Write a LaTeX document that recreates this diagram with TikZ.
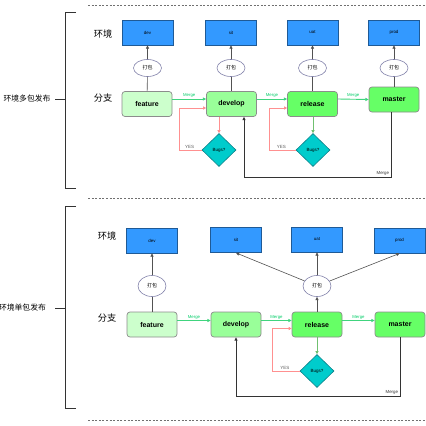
\documentclass[tikz,border=0pt]{standalone}
\usepackage{fontspec}
\setmainfont{Liberation Sans}
\newfontfamily\cjk{Noto Sans CJK SC}
\usetikzlibrary{shapes.geometric,arrows.meta}
\definecolor{envblue}{HTML}{3399FF}
\definecolor{envborder}{HTML}{1F5A96}
\definecolor{pkgborder}{HTML}{7F7FA8}
\definecolor{brborder}{HTML}{8C8C8C}
\definecolor{featfill}{HTML}{CCFFCC}
\definecolor{devfill}{HTML}{99FF99}
\definecolor{relfill}{HTML}{66FF66}
\definecolor{bugfill}{HTML}{00CCCC}
\definecolor{bugborder}{HTML}{0E8088}
\definecolor{mergegreen}{HTML}{00CC66}
\definecolor{mergeline}{HTML}{40D47E}
\definecolor{yesline}{HTML}{FF9090}
\definecolor{yestip}{HTML}{FF2A2A}
\definecolor{relline}{HTML}{70C070}
\definecolor{reltip}{HTML}{2D6A00}
\definecolor{darkline}{HTML}{333333}
\begin{document}
\begin{tikzpicture}[x=1pt,y=-1pt,
  tip/.style={-{Triangle[length=3.2pt,width=3pt]}},
  envbox/.style={draw=envborder, fill=envblue, line width=0.8pt, minimum width=51pt, minimum height=25pt, inner sep=0pt, font=\fontsize{4.4}{5}\selectfont},
  pkg/.style={ellipse, draw=pkgborder, fill=white, line width=0.6pt, minimum width=28pt, minimum height=#1, inner sep=0pt, font=\cjk\fontsize{5}{6}\selectfont},
  branchbox/.style={rounded corners=3pt, draw=brborder, line width=0.7pt, fill=#1, minimum width=50pt, minimum height=25pt, inner sep=0pt, font=\bfseries\fontsize{7}{8}\selectfont},
  bug/.style={diamond, draw=bugborder, fill=bugfill, line width=0.6pt, minimum width=34pt, minimum height=33pt, inner sep=0pt, font=\fontsize{4.5}{5}\selectfont},
  grayline/.style={draw=darkline!85, line width=0.6pt},
  grayarrow/.style={grayline, tip},
  merge/.style={draw=mergeline, line width=0.9pt, -{Triangle[length=3.2pt,width=3pt,fill=mergegreen]}},
  mergelabel/.style={font=\fontsize{4.3}{5}\selectfont, text=mergegreen, inner sep=1pt},
  yes/.style={draw=yesline, line width=0.7pt, -{Triangle[length=3pt,width=3pt,fill=yestip]}},
  yeslabel/.style={font=\fontsize{4.5}{5}\selectfont, text=darkline!80, inner sep=1pt},
  back/.style={draw=darkline, line width=0.8pt, tip},
  dashsep/.style={draw=darkline!70, line width=0.7pt, dash pattern=on 2pt off 1.6pt},
  bracket/.style={draw=darkline, line width=0.8pt},
  sectlabel/.style={font=\cjk\fontsize{7.8}{9}\selectfont, inner sep=0pt},
  rowlabel/.style={font=\cjk\fontsize{9.2}{10}\selectfont, inner sep=0pt}
]
\useasboundingbox (0,0) rectangle (426,426);

% separators
\coordinate (s1a) at (88,5);   \coordinate (s1b) at (426,5);
\coordinate (s2a) at (88,198); \coordinate (s2b) at (426,198);
\coordinate (s3a) at (88,420); \coordinate (s3b) at (426,420);
\draw[dashsep] (s1a) -- (s1b);
\draw[dashsep] (s2a) -- (s2b);
\draw[dashsep] (s3a) -- (s3b);

% brackets
\coordinate (b1t) at (76,12); \coordinate (b1b) at (76,188); \coordinate (b1m) at (65,99); \coordinate (b1k) at (55,99);
\draw[bracket] (b1t) -- (65,12) -- (65,188) -- (b1b);
\draw[bracket] (b1k) -- (b1m);
\node[sectlabel] (L1) at (27,99) {环境多包发布};
\coordinate (b2t) at (76,206); \coordinate (b2b) at (76,408); \coordinate (b2m) at (65,308); \coordinate (b2k) at (55,308);
\draw[bracket] (b2t) -- (65,206) -- (65,408) -- (b2b);
\draw[bracket] (b2k) -- (b2m);
\node[sectlabel] (L2) at (22.5,308) {环境单包发布};

% ================= top section =================
\node[rowlabel] (env1) at (103,34) {环境};
\node[rowlabel] (br1) at (103,98) {分支};

\node[envbox] (dev1) at (147.5,32.5) {dev};
\node[envbox] (sit1) at (231,32.5) {sit};
\node[envbox] (uat1) at (312.5,32.5) {uat};
\node[envbox] (prod1) at (394,32.5) {prod};

\node[pkg=17pt] (p1) at (147.5,68) {打包};
\node[pkg=17pt] (p2) at (231,68) {打包};
\node[pkg=17pt] (p3) at (312.5,68) {打包};
\node[pkg=17pt] (p4) at (394,68) {打包};

\node[branchbox=featfill] (feature1) at (147,104) {feature};
\node[branchbox=devfill] (develop1) at (231.5,104) {develop};
\node[branchbox=relfill] (release1) at (312.5,104) {release};
\node[branchbox=relfill] (master1) at (394,99.5) {master};

\node[bug] (bug1) at (219,150) {Bugs?};
\node[bug] (bug2) at (313,150) {Bugs?};

\draw[grayline] (feature1) -- (p1);
\draw[grayline] (develop1.north -| p2) -- (p2);
\draw[grayline] (release1) -- (p3);
\draw[grayline] (master1) -- (p4);
\draw[grayarrow] (p1) -- (dev1);
\draw[grayarrow] (p2) -- (sit1);
\draw[grayarrow] (p3) -- (uat1);
\draw[grayarrow] (p4) -- (prod1);

\draw[merge] ([yshift=5pt]feature1.east) -- node[mergelabel, above] {Merge} ([yshift=5pt]develop1.west);
\draw[merge] ([yshift=5pt]develop1.east) -- node[mergelabel, above] {Merge} ([yshift=5pt]release1.west);
\draw[merge] ([yshift=5pt]release1.east) -- node[mergelabel, above] {Merge} (master1.west);

\draw[draw=yesline, line width=0.7pt, -{Triangle[length=3pt,width=3pt,fill=yestip]}] (bug1.north |- develop1.south) -- (bug1.north);
\draw[draw=relline, line width=0.7pt, -{Triangle[length=3pt,width=3pt,fill=reltip]}] (bug2.north |- release1.south) -- (bug2.north);

\draw[yes] (bug1.west) -- node[yeslabel, above, pos=0.55] {YES} ++(-22,0) |- ([yshift=-4pt]develop1.west);
\draw[yes] (bug2.west) -- node[yeslabel, above, pos=0.55] {YES} ++(-26,0) |- ([yshift=-4pt]release1.west);

\draw[back] ([xshift=-3pt]master1.south) -- node[pos=1, anchor=south east, font=\fontsize{4.4}{5}\selectfont, text=darkline, xshift=-1pt, yshift=1.5pt, inner sep=0.5pt] {Merge} ++(0,65) -| ([xshift=12.5pt]develop1.south);

% ================= bottom section =================
\node[rowlabel] (env2) at (107,236) {环境};
\node[rowlabel] (br2) at (107,318) {分支};

\node[envbox] (dev2) at (152,240.5) {dev};
\node[envbox] (sit2) at (236,240) {sit};
\node[envbox] (uat2) at (317,239.5) {uat};
\node[envbox] (prod2) at (399.5,240.5) {prod};

\node[pkg=21pt] (pd) at (152,286) {打包};
\node[pkg=21pt] (pr) at (317,286) {打包};

\node[branchbox=featfill] (feature2) at (152,324.5) {feature};
\node[branchbox=devfill] (develop2) at (236,324.5) {develop};
\node[branchbox=relfill] (release2) at (317,324.5) {release};
\node[branchbox=relfill] (master2) at (400,324.5) {master};

\node[bug] (bug3) at (317,371) {Bugs?};

\draw[grayline] (feature2) -- (pd);
\draw[grayarrow] (pd) -- (dev2);
\draw[grayarrow] (release2) -- (pr);
\draw[grayarrow] (pr) -- (sit2.south);
\draw[grayarrow] (pr) -- (uat2);
\draw[grayarrow] (pr) -- (prod2.south);

\draw[merge] ([yshift=4pt]feature2.east) -- node[mergelabel, above] {Merge} ([yshift=4pt]develop2.west);
\draw[merge] ([yshift=4pt]develop2.east) -- node[mergelabel, above] {Merge} ([yshift=4pt]release2.west);
\draw[merge] ([yshift=4pt]release2.east) -- node[mergelabel, above] {Merge} ([yshift=4pt]master2.west);

\draw[draw=relline, line width=0.7pt, -{Triangle[length=3pt,width=3pt,fill=reltip]}] (release2.south) -- (bug3.north);
\draw[yes] (bug3.west) -- node[yeslabel, above, pos=0.55] {YES} ++(-27,0) |- ([yshift=-4pt]release2.west);

\draw[back] (master2.south) -- node[pos=1, anchor=south east, font=\fontsize{4.4}{5}\selectfont, text=darkline, xshift=-1pt, yshift=1.5pt, inner sep=0.5pt] {Merge} ++(0,59) -| (develop2.south);
\end{tikzpicture}
\end{document}
